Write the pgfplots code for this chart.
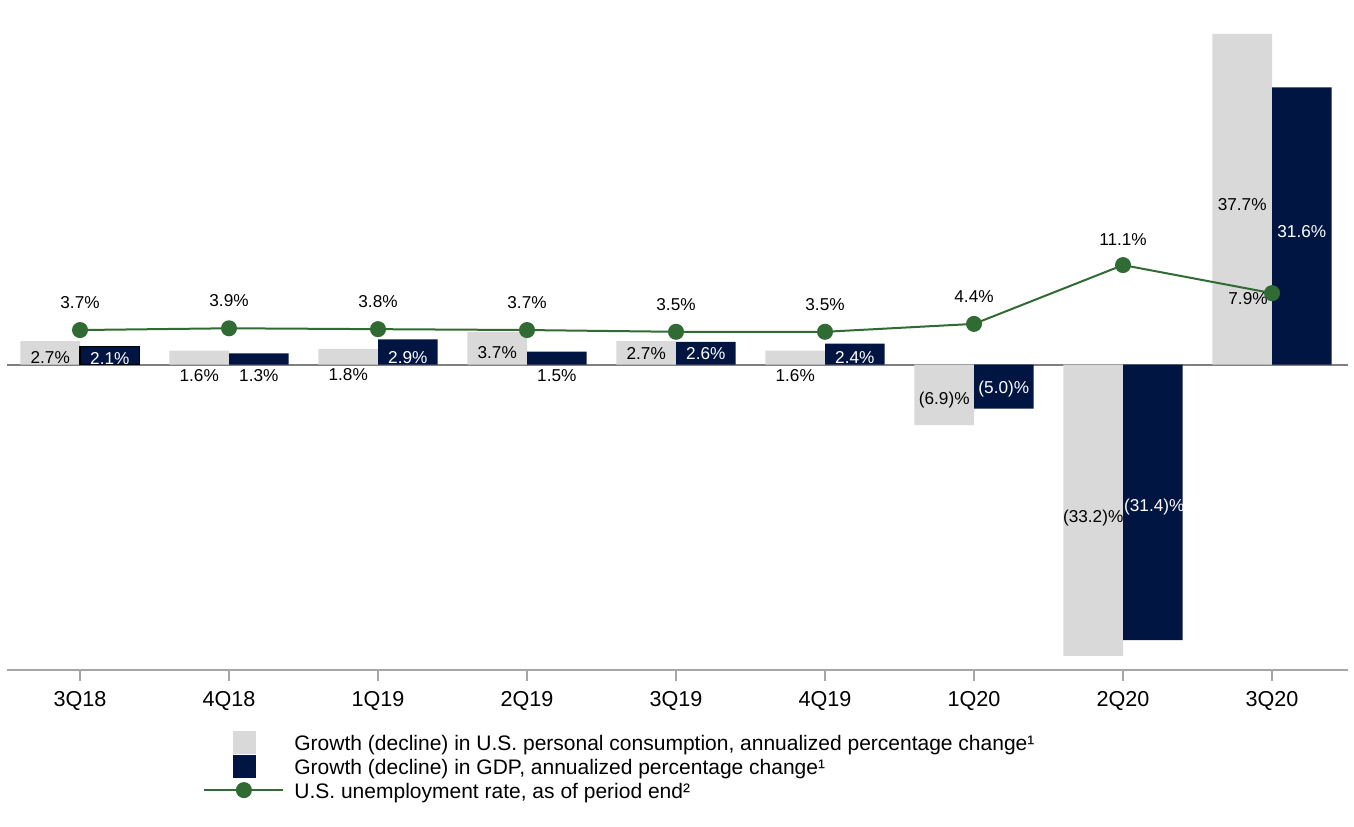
\documentclass[border=0pt]{standalone}
\usepackage{fontspec}
\setmainfont{Liberation Sans}
\usepackage{pgfplots}
\usepackage{pgfplotstable}
\pgfplotsset{compat=1.18}

\definecolor{consgray}{RGB}{217,217,217}
\definecolor{gdpnavy}{RGB}{0,21,66}
\definecolor{unempgreen}{RGB}{47,107,51}
\definecolor{zerogray}{RGB}{128,128,128}
\definecolor{axisgray}{RGB}{166,166,166}

% quarter index, consumption growth, GDP growth, unemployment rate
\pgfplotstableread{
x cons gdp unemp
0 2.7 2.1 3.7
1 1.6 1.3 3.9
2 1.8 2.9 3.8
3 3.7 1.5 3.7
4 2.7 2.6 3.5
5 1.6 2.4 3.5
6 -6.9 -5.0 4.4
7 -33.2 -31.4 11.1
8 37.7 31.6 7.9
}\datatable

\tikzset{lbl/.style={font=\fontsize{8.6}{10}\selectfont, inner sep=0pt}}
\pgfplotsset{
    sqlegend/.style={legend image code/.code={%
        \fill[##1, draw=none] (14.25pt,-5.75pt) rectangle (25.75pt,5.75pt);
        \path (0pt,0pt) (44.5pt,0pt);}},
    linelegend/.style={legend image code/.code={%
        \draw[mark repeat=2, mark phase=2, ##1] plot coordinates {(0pt,0pt) (19.75pt,0pt) (39.5pt,0pt)};
        \path (44.5pt,0pt);}},
}

\begin{document}
\begin{tikzpicture}
\begin{axis}[
    at={(0,0)}, anchor=south west,
    scale only axis, width=670.5pt, height=335pt,
    xmin=-0.49, xmax=8.51, ymin=-34.80, ymax=41.57,
    axis x line=bottom, axis y line=none,
    x axis line style={-, axisgray, line width=1pt},
    xtick={0,...,8},
    xticklabels={3Q18,4Q18,1Q19,2Q19,3Q19,4Q19,1Q20,2Q20,3Q20},
    tick align=outside, major tick length=5.5pt,
    x tick style={axisgray, line width=1pt},
    xticklabel style={font=\fontsize{10.8}{12}\selectfont, anchor=base, yshift=-12.5pt},
    ytick=\empty,
    clip=false,
    legend cell align=left,
    legend style={at={(axis description cs:0.14616,-0.0891)}, anchor=north west,
        draw=none, fill=none, inner sep=0pt, row sep=0pt, column sep=0pt,
        nodes={inner sep=0pt, text height=10pt, text depth=2pt,
               font=\fontsize{10.5}{12}\selectfont}},
]
\draw[zerogray, line width=1pt] (axis cs:-0.49,0) -- (axis cs:8.51,0);

\addplot[ybar, bar width=0.4, bar shift=-0.2, fill=consgray, draw=none, sqlegend]
    table[x=x, y=cons] {\datatable};
\addlegendentry{Growth (decline) in U.S. personal consumption, annualized percentage change¹}

\addplot[ybar, bar width=0.4, bar shift=0.2, fill=gdpnavy, draw=none, sqlegend]
    table[x=x, y=gdp] {\datatable};
\addlegendentry{Growth (decline) in GDP, annualized percentage change¹}

% the first GDP bar carries a thin black outline
\addplot[ybar, bar width=0.4, bar shift=0.2, fill=gdpnavy, draw=black, line width=0.6pt, forget plot]
    coordinates {(0,2.1)};

\addlegendimage{unempgreen, line width=1pt, mark=*, mark size=3.5pt,
    mark options={fill=unempgreen, draw=unempgreen}, linelegend}
\addlegendentry{U.S. unemployment rate, as of period end²}

% consumption labels
\node[lbl] at (axis cs:-0.2,0.76) {2.7\%};
\node[lbl] at (axis cs:0.8,-1.29) {1.6\%};
\node[lbl] at (axis cs:1.8,-1.17) {1.8\%};
\node[lbl] at (axis cs:2.8,1.33) {3.7\%};
\node[lbl] at (axis cs:3.8,1.22) {2.7\%};
\node[lbl] at (axis cs:4.8,-1.29) {1.6\%};
\node[lbl] at (axis cs:5.8,-4.02) {(6.9)\%};
\node[lbl] at (axis cs:6.8,-17.47) {(33.2)\%};
\node[lbl] at (axis cs:7.8,18.20) {37.7\%};
% GDP labels
\node[lbl, white] at (axis cs:0.2,0.65) {2.1\%};
\node[lbl] at (axis cs:1.2,-1.29) {1.3\%};
\node[lbl, white] at (axis cs:2.2,0.76) {2.9\%};
\node[lbl] at (axis cs:3.2,-1.29) {1.5\%};
\node[lbl, white] at (axis cs:4.2,1.22) {2.6\%};
\node[lbl, white] at (axis cs:5.2,0.76) {2.4\%};
\node[lbl, white] at (axis cs:6.2,-2.79) {(5.0)\%};
\node[lbl, white] at (axis cs:7.21,-16.22) {(31.4)\%};
\node[lbl, white] at (axis cs:8.2,15.13) {31.6\%};
\end{axis}

\begin{axis}[
    at={(0,0)}, anchor=south west,
    scale only axis, width=670.5pt, height=335pt,
    xmin=-0.49, xmax=8.51, ymin=-35.02, ymax=41.29,
    hide axis, clip=false,
]
\addplot[unempgreen, line width=1pt, mark=*, mark size=3.5pt,
    mark options={fill=unempgreen, draw=unempgreen}]
    table[x=x, y=unemp] {\datatable};
\node[lbl, yshift=13.8pt] at (axis cs:0,3.7) {3.7\%};
\node[lbl, yshift=13.8pt] at (axis cs:1,3.9) {3.9\%};
\node[lbl, yshift=13.8pt] at (axis cs:2,3.8) {3.8\%};
\node[lbl, yshift=13.8pt] at (axis cs:3,3.7) {3.7\%};
\node[lbl, yshift=13.8pt] at (axis cs:4,3.5) {3.5\%};
\node[lbl, yshift=13.8pt] at (axis cs:5,3.5) {3.5\%};
\node[lbl, yshift=13.8pt] at (axis cs:6,4.4) {4.4\%};
\node[lbl, yshift=12.8pt] at (axis cs:7,11.1) {11.1\%};
\node[lbl, xshift=-12pt, yshift=-2.5pt] at (axis cs:8,7.9) {7.9\%};
\end{axis}

\pgfresetboundingbox
\path[use as bounding box] (-3.5pt,-78pt) rectangle (673.5pt,335pt);
\end{tikzpicture}
\end{document}
